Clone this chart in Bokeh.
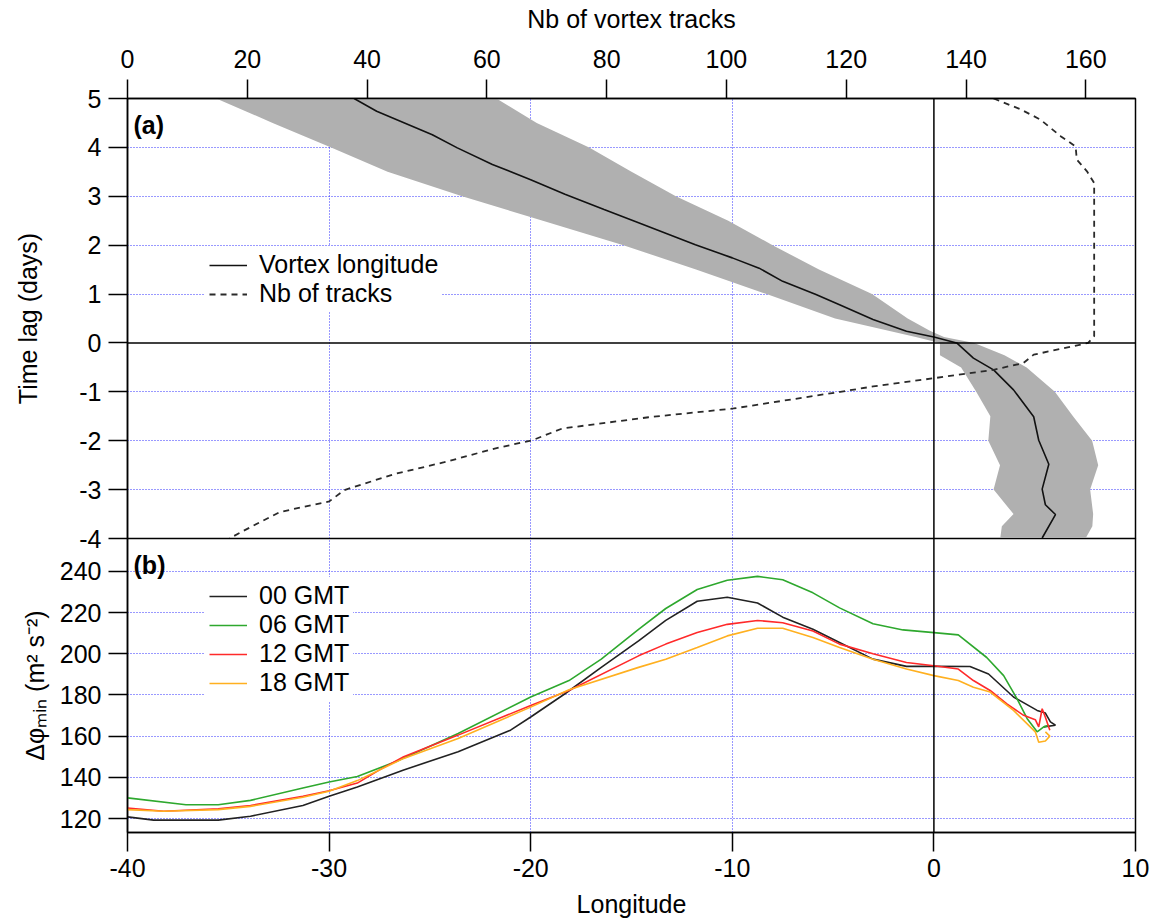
from bokeh.plotting import figure
from bokeh.models import (Range1d, LinearAxis, FixedTicker, Grid, Span, Legend,
                          LegendItem, Label)
from bokeh.layouts import column
from bokeh.embed import file_html
from bokeh.resources import INLINE

FONT = "Liberation Sans"

# ---------------- Panel (a) data ----------------
# vortex longitude (deg) vs time lag (days)
vort_lag = [5.0, 4.74, 4.26, 3.99, 3.65, 3.34, 3.04, 2.73, 2.46, 2.01, 1.74, 1.53, 1.26,
            0.99, 0.78, 0.48, 0.24, 0.12, 0.0, -0.31, -0.55, -0.96, -1.51, -1.99, -2.48,
            -2.99, -3.31, -3.51, -3.99]
vort_lon = [-28.76, -27.64, -24.88, -23.64, -21.9, -20.0, -18.3, -16.36, -14.65, -11.83,
            -10.0, -8.67, -7.5, -5.85, -4.68, -3.02, -1.36, 0.0, 1.13, 1.96, 2.96, 3.95,
            4.95, 5.2, 5.7, 5.37, 5.53, 6.03, 5.37]

# spread band (gray)
band_lag = [5.0, 4.5, 4.0, 3.5, 3.0, 2.5, 2.0, 1.5, 1.0, 0.5, 0.25, 0.12, 0.0, -0.25, -0.5,
            -1.0, -1.5, -2.0, -2.5, -3.0, -3.5, -3.75, -4.0]
band_lo = [-35.6, -32.8, -29.9, -27.1, -23.4, -19.4, -15.4, -11.8, -8.3, -4.9, -2.25, -0.9,
           0.3, 0.3, 1.35, 2.1, 2.8, 2.7, 3.28, 2.96, 3.95, 3.37, 3.29]
band_hi = [-21.7, -19.7, -17.1, -15.0, -12.8, -10.2, -8.0, -5.7, -3.07, -1.3, -0.2, 0.5,
           2.0, 3.5, 4.6, 6.0, 6.9, 7.85, 8.15, 7.75, 7.9, 7.86, 7.52]

# number of tracks (top axis) vs time lag
ntr_lag = [5.0, 4.78, 4.57, 4.23, 4.02, 3.75, 3.51, 3.27, 0.14, 0.0, -0.24, -0.41, -0.55,
           -0.72, -0.89, -1.0, -1.34, -1.52, -1.75, -1.99, -2.16, -2.44, -2.68, -3.01,
           -3.24, -3.46, -3.84, -4.0]
ntr_val = [144.6, 149.1, 152.4, 155.8, 158.3, 158.5, 160.2, 161.4, 161.4, 160.4, 151.3,
           149.6, 144.6, 134.7, 124.5, 119.0, 101.2, 87.0, 72.6, 67.6, 61.3, 52.9, 44.6,
           36.2, 33.7, 25.4, 19.4, 17.0]

# ---------------- Panel (b) data ----------------
gmt_labels = ["00 GMT", "06 GMT", "12 GMT", "18 GMT"]
gmt_colors = ["#222222", "#2ea82e", "#ff2a2a", "#ffb020"]

lon_00 = [-40, -38.7, -35.5, -33.9, -31.3, -30.0, -28.6, -26.3, -23.6, -21.0, -20.0, -18.3,
          -16.5, -14.65, -13.3, -11.74, -10.25, -8.75, -7.5, -6.0, -4.68, -3.02, -1.36, 0,
          1.79, 2.71, 3.95, 5.12, 5.53, 5.78, 6.03, 5.45]
val_00 = [120.8, 119.2, 119.2, 121.1, 126.3, 130.8, 135.3, 143.6, 152.4, 162.9, 169.3,
          180.6, 193.4, 206.3, 216.2, 225.5, 227.5, 224.7, 217.8, 211.9, 205.5, 197.4,
          193.9, 193.9, 193.8, 190.2, 179.0, 172.5, 171.2, 166.9, 165.3, 164.5]

lon_06 = [-40, -37.1, -35.5, -33.9, -31.3, -30.0, -28.6, -26.7, -23.6, -20.0, -18.1, -16.5,
          -14.65, -13.3, -11.74, -10.25, -8.75, -7.5, -6.0, -4.68, -3.02, -1.53, 0, 1.21,
          2.62, 3.46, 4.12, 4.62, 5.12, 5.45, 5.7]
val_06 = [130.0, 126.7, 126.7, 128.8, 134.8, 137.7, 140.4, 147.6, 161.3, 179.0, 187.0,
          197.4, 211.9, 222.0, 231.2, 235.7, 237.6, 236.0, 229.6, 222.3, 214.6, 211.6,
          210.3, 209.2, 198.2, 189.4, 178.2, 168.6, 162.1, 164.5, 165.3]

lon_12 = [-40, -38.2, -35.5, -33.9, -31.3, -30.0, -28.6, -27.5, -26.3, -23.6, -20.0, -18.1,
          -14.65, -13.3, -11.74, -10.25, -8.75, -7.5, -6.0, -4.68, -3.02, -1.36, 0, 1.21,
          1.96, 2.79, 3.62, 4.45, 5.03, 5.2, 5.37, 5.53, 5.75]
val_12 = [125.1, 123.5, 124.7, 126.3, 130.8, 133.5, 137.2, 143.6, 150.0, 160.5, 174.9,
          182.2, 199.0, 204.7, 210.3, 214.3, 216.2, 215.1, 211.1, 204.7, 200.0, 195.8,
          194.2, 192.6, 187.0, 182.2, 175.7, 170.1, 168.0, 164.5, 173.3, 169.2, 162.9]

lon_18 = [-40, -38.2, -35.5, -33.9, -31.3, -30.0, -28.6, -26.3, -23.6, -20.0, -18.1,
          -14.65, -13.3, -11.74, -10.25, -8.75, -7.5, -6.0, -4.68, -3.02, -1.36, 0, 1.21,
          1.96, 2.79, 3.95, 5.03, 5.2, 5.53, 5.75, 5.53]
val_18 = [124.3, 123.5, 124.3, 125.9, 130.3, 133.2, 138.4, 149.2, 158.9, 174.1, 182.5,
          193.4, 197.4, 203.1, 208.7, 212.4, 212.4, 207.9, 203.1, 197.4, 192.6, 189.4,
          187.0, 183.8, 181.4, 172.5, 162.1, 157.0, 157.6, 160.0, 162.1]

lon_ticks = [-40, -30, -20, -10, 0, 10]
lon_grid = [-30, -20, -10]
lag_ticks = [-4, -3, -2, -1, 0, 1, 2, 3, 4, 5]
lag_grid = [-3, -2, -1, 1, 2, 3, 4, 5]
trk_ticks = [0, 20, 40, 60, 80, 100, 120, 140, 160]
phi_ticks = [120, 140, 160, 180, 200, 220, 240]

GRID_COLOR = "#3333ff"
FS = "25px"
OVERLAP = 20


def hyphen_labels(ticks):
    return {t: str(t) for t in ticks}


def style_axis(ax):
    ax.axis_line_color = "black"
    ax.axis_line_width = 1.5
    ax.major_tick_line_color = "black"
    ax.major_tick_line_width = 1.5
    ax.major_tick_out = 19
    ax.major_tick_in = 0
    ax.minor_tick_line_color = None
    ax.major_label_text_font = FONT
    ax.major_label_text_font_size = FS
    ax.major_label_text_color = "black"
    ax.axis_label_text_font = FONT
    ax.axis_label_text_font_size = FS
    ax.axis_label_text_font_style = "normal"
    ax.axis_label_text_color = "black"


def add_grid(p, dim, ticks):
    g = Grid(dimension=dim, ticker=FixedTicker(ticks=ticks), grid_line_color=GRID_COLOR,
             grid_line_dash="1 2", grid_line_width=1.1, grid_line_alpha=1)
    p.add_layout(g)


# ---------------- Panel (a) ----------------
p1 = figure(width=1150, height=538 + OVERLAP, x_range=Range1d(-40, 10),
            y_range=Range1d(-4, 5),
            output_backend="svg", toolbar_location=None, x_axis_location=None,
            min_border_left=127, min_border_right=15, min_border_top=98,
            min_border_bottom=OVERLAP)
p1.xgrid.visible = False
p1.ygrid.visible = False
p1.extra_x_ranges = {"tracks": Range1d(0, 168.3)}
top_ax = LinearAxis(x_range_name="tracks", ticker=FixedTicker(ticks=trk_ticks),
                    axis_label="Nb of vortex tracks")
style_axis(top_ax)
top_ax.major_label_standoff = 12
top_ax.axis_label_standoff = 14
p1.add_layout(top_ax, "above")
p1.yaxis.ticker = FixedTicker(ticks=lag_ticks)
p1.yaxis.major_label_overrides = hyphen_labels(lag_ticks)
p1.yaxis.axis_label = "Time lag (days)"
style_axis(p1.yaxis[0])
p1.yaxis.major_label_standoff = 7
p1.yaxis.axis_label_standoff = 34
p1.outline_line_color = "black"
p1.outline_line_width = 1.5
p1.outline_line_alpha = 1
add_grid(p1, 0, lon_grid)
add_grid(p1, 1, lag_grid)

p1.harea(x1=band_lo, x2=band_hi, y=band_lag, fill_color="#b0b0b0", fill_alpha=1)
p1.add_layout(Span(location=0, dimension="height", line_color="black", line_width=1.5))
p1.add_layout(Span(location=0, dimension="width", line_color="black", line_width=1.5))
r_vort = p1.line(vort_lon, vort_lag, line_color="#111111", line_width=1.6)
r_trk = p1.line(ntr_val, ntr_lag, x_range_name="tracks", line_color="#2a2a2a",
                line_width=1.8, line_dash="6 5")

leg1 = Legend(items=[LegendItem(label="Vortex longitude", renderers=[r_vort]),
                     LegendItem(label="Nb of tracks", renderers=[r_trk])],
              location=(78, 226), label_text_font=FONT, label_text_font_size=FS,
              label_text_color="black", label_text_line_height=1.0,
              glyph_width=38, glyph_height=20, label_height=20, spacing=-6,
              label_standoff=12, padding=4, margin=0, border_line_alpha=0,
              background_fill_color="white", background_fill_alpha=1)
p1.add_layout(leg1)
p1.add_layout(Label(x=-39.7, y=4.45, text="(a)", text_font=FONT, text_font_size=FS,
                    text_font_style="bold", text_baseline="middle", text_color="black"))

# ---------------- Panel (b) ----------------
p2 = figure(width=1150, height=382, x_range=p1.x_range, y_range=Range1d(113.2, 256),
            output_backend="svg", toolbar_location=None,
            min_border_left=127, min_border_right=15, min_border_top=0,
            min_border_bottom=88)
p2.styles = {"margin-top": "-%dpx" % OVERLAP}
p2.border_fill_alpha = 0
p2.xgrid.visible = False
p2.ygrid.visible = False
p2.xaxis.ticker = FixedTicker(ticks=lon_ticks)
p2.xaxis.major_label_overrides = hyphen_labels(lon_ticks)
p2.xaxis.axis_label = "Longitude"
style_axis(p2.xaxis[0])
p2.xaxis.major_label_standoff = 7
p2.xaxis.axis_label_standoff = 10
p2.yaxis.ticker = FixedTicker(ticks=phi_ticks)
p2.yaxis.axis_label = "Δφₘᵢₙ (m² s⁻²)"
style_axis(p2.yaxis[0])
p2.yaxis.major_label_standoff = 7
p2.yaxis.axis_label_standoff = 8
p2.outline_line_color = "black"
p2.outline_line_width = 1.5
p2.outline_line_alpha = 1
add_grid(p2, 0, lon_grid)
add_grid(p2, 1, phi_ticks)
p2.add_layout(Span(location=0, dimension="height", line_color="black", line_width=1.5))

series = [(lon_00, val_00), (lon_06, val_06), (lon_12, val_12), (lon_18, val_18)]
items = []
for (xs, ys), lab, col in zip(series, gmt_labels, gmt_colors):
    r = p2.line(xs, ys, line_color=col, line_width=1.6)
    items.append(LegendItem(label=lab, renderers=[r]))

leg2 = Legend(items=items, location=(78, 131), label_text_font=FONT,
              label_text_font_size=FS, label_text_color="black",
              label_text_line_height=1.0,
              glyph_width=38, glyph_height=20,
              label_height=20, spacing=-6, label_standoff=12, padding=4, margin=0,
              border_line_alpha=0, background_fill_color="white",
              background_fill_alpha=1)
p2.add_layout(leg2)
p2.add_layout(Label(x=-39.7, y=243.0, text="(b)", text_font=FONT, text_font_size=FS,
                    text_font_style="bold", text_baseline="middle", text_color="black"))

layout = column(p1, p2, spacing=0)
open("out.html", "w").write(file_html(layout, INLINE))
